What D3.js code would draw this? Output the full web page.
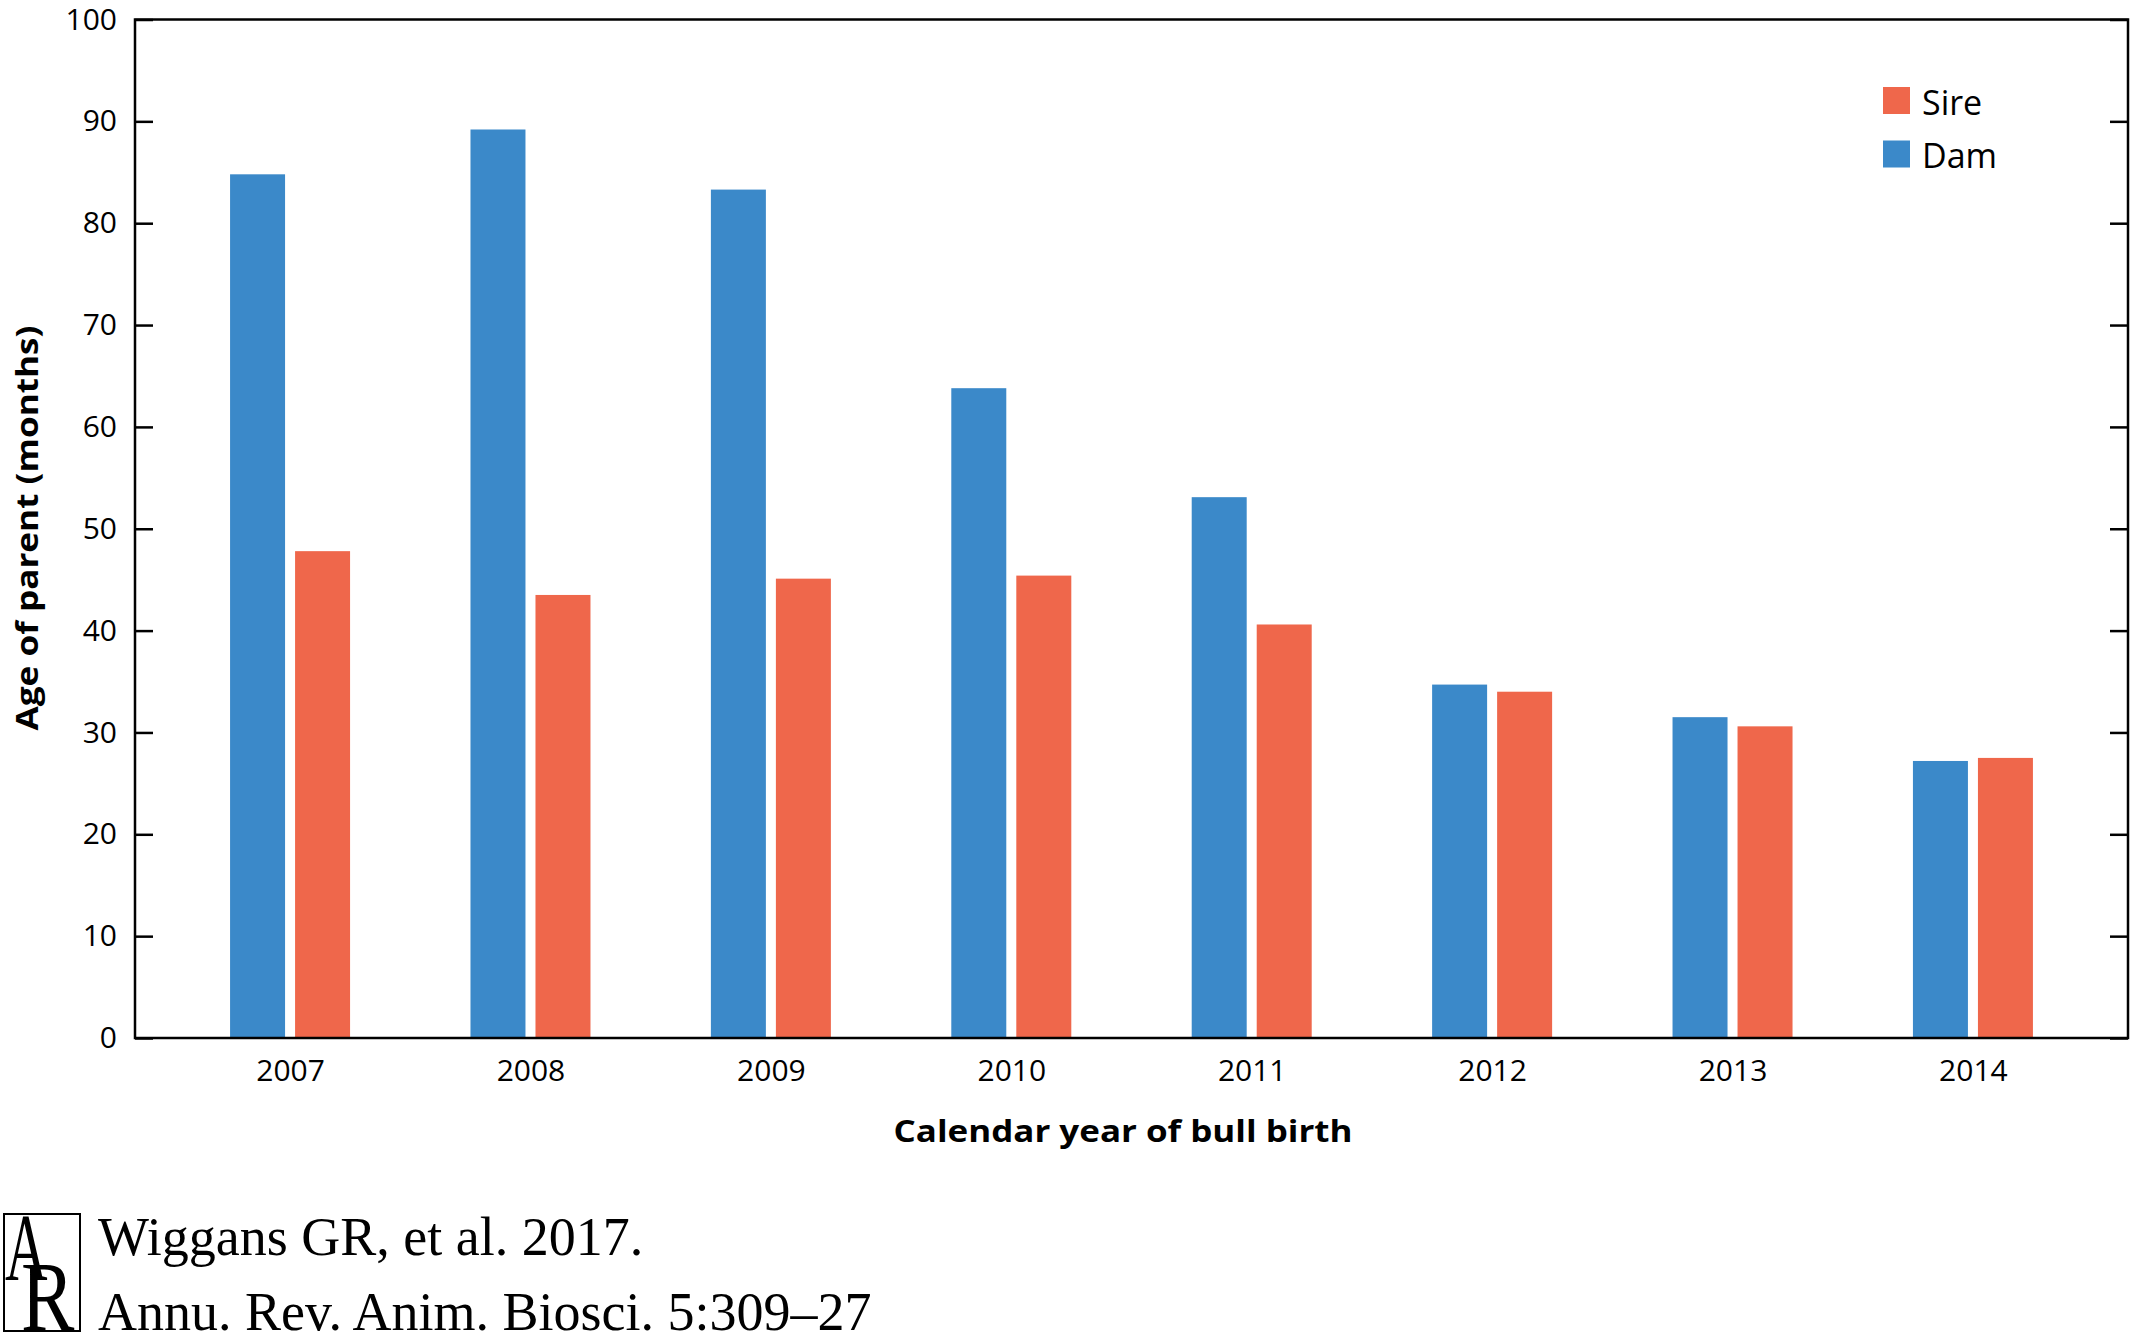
<!DOCTYPE html>
<html>
<head>
<meta charset="utf-8">
<script src="https://cdn.jsdelivr.net/npm/d3@7"></script>
<style>
  html, body { margin: 0; padding: 0; background: #fff; }
  svg { display: block; }
</style>
</head>
<body>
<script>
const years = ["2007", "2008", "2009", "2010", "2011", "2012", "2013", "2014"];
const damValues = [84.8, 89.2, 83.3, 63.8, 53.1, 34.7, 31.5, 27.2];
const sireValues = [47.8, 43.5, 45.1, 45.4, 40.6, 34.0, 30.6, 27.5];
const seriesNames = ["Dam", "Sire"];
const legendOrder = ["Sire", "Dam"];
const yTicks = [0, 10, 20, 30, 40, 50, 60, 70, 80, 90, 100];
const xTitle = "Calendar year of bull birth";
const yTitle = "Age of parent (months)";
const citation = ["Wiggans GR, et al. 2017.", "Annu. Rev. Anim. Biosci. 5:309\u201327"];

(function () {
const W = 2133, H = 1341;
const pL = 135, pR = 2128, pT = 19.5, pB = 1038;
const colors = { Dam: "#3b89c9", Sire: "#ef674b" };
const sans = "'Open Sans', 'Noto Sans', sans-serif";
const serif = "'Liberation Serif', 'DejaVu Serif', serif";

const svg = d3.select("body").append("svg").attr("width", W).attr("height", H);

const x = d3.scalePoint().domain(years).range([pL, pR]).padding(0.645);
const xs = d3.scaleBand().domain(seriesNames).range([-60, 60]).paddingInner(0.154);
const y = d3.scaleLinear().domain([0, 100]).range([pB, pT]);

const data = years.map((yr, i) => ({ year: yr, Dam: damValues[i], Sire: sireValues[i] }));

// bars
const g = svg.append("g");
g.selectAll("g.grp").data(data).join("g").attr("class", "grp")
  .attr("transform", d => `translate(${x(d.year)},0)`)
  .selectAll("rect").data(d => seriesNames.map(s => ({ s, v: d[s] })))
  .join("rect")
  .attr("x", d => xs(d.s))
  .attr("width", xs.bandwidth())
  .attr("y", d => y(d.v))
  .attr("height", d => y(0) - y(d.v))
  .attr("fill", d => colors[d.s]);

// left axis
const ya = svg.append("g").attr("transform", `translate(${pL},0)`)
  .call(d3.axisLeft(y).tickValues(yTicks).tickSize(-18).tickPadding(18).tickFormat(d3.format("d")));
ya.select(".domain").remove();
ya.selectAll("line").attr("stroke", "#000").attr("stroke-width", 2.5);
ya.selectAll("text").attr("font-family", sans).attr("font-size", 30).attr("fill", "#000");

// right axis (ticks only)
const yr = svg.append("g").attr("transform", `translate(${pR},0)`)
  .call(d3.axisRight(y).tickValues(yTicks).tickSize(-18).tickFormat(""));
yr.select(".domain").remove();
yr.selectAll("line").attr("stroke", "#000").attr("stroke-width", 2.5);

// bottom axis
const xa = svg.append("g").attr("transform", `translate(0,${pB})`)
  .call(d3.axisBottom(x).tickSize(0).tickPadding(22));
xa.select(".domain").remove();
xa.selectAll("text").attr("font-family", sans).attr("font-size", 30).attr("fill", "#000");

// frame
svg.append("rect").attr("x", pL).attr("y", pT)
  .attr("width", pR - pL).attr("height", pB - pT)
  .attr("fill", "none").attr("stroke", "#000").attr("stroke-width", 2.5);

// axis titles
svg.append("text").attr("x", 1123).attr("y", 1142)
  .attr("text-anchor", "middle").attr("font-family", sans).attr("font-weight", 700)
  .attr("font-size", 31).attr("textLength", 459).attr("lengthAdjust", "spacingAndGlyphs")
  .text(xTitle);
svg.append("text").attr("transform", "translate(38,528) rotate(-90)")
  .attr("text-anchor", "middle").attr("font-family", sans).attr("font-weight", 700)
  .attr("font-size", 31).attr("textLength", 405).attr("lengthAdjust", "spacingAndGlyphs")
  .text(yTitle);

// legend
const lg = svg.append("g").attr("transform", "translate(1883,87)");
legendOrder.forEach((s, i) => {
  lg.append("rect").attr("x", 0).attr("y", i * 53.5).attr("width", 27).attr("height", 27)
    .attr("fill", colors[s]);
  lg.append("text").attr("x", 39).attr("y", i * 53.5 + 27.5)
    .attr("font-family", sans).attr("font-size", 34).attr("fill", "#000").text(s);
});

// citation with AR logo
const logo = svg.append("g");
logo.append("rect").attr("x", 4).attr("y", 1214).attr("width", 76).attr("height", 117)
  .attr("fill", "none").attr("stroke", "#000").attr("stroke-width", 2);
logo.append("text").attr("transform", "translate(5,1280) scale(0.62,1)")
  .attr("font-family", serif).attr("font-size", 95).text("A");
logo.append("text").attr("transform", "translate(21,1330) scale(0.8,1)")
  .attr("font-family", serif).attr("font-size", 100).text("R");

svg.append("text").attr("x", 98).attr("y", 1255)
  .attr("font-family", serif).attr("font-size", 54).attr("fill", "#000").text(citation[0]);
svg.append("text").attr("x", 98).attr("y", 1330)
  .attr("font-family", serif).attr("font-size", 54).attr("fill", "#000").text(citation[1]);
})();
</script>
</body>
</html>
